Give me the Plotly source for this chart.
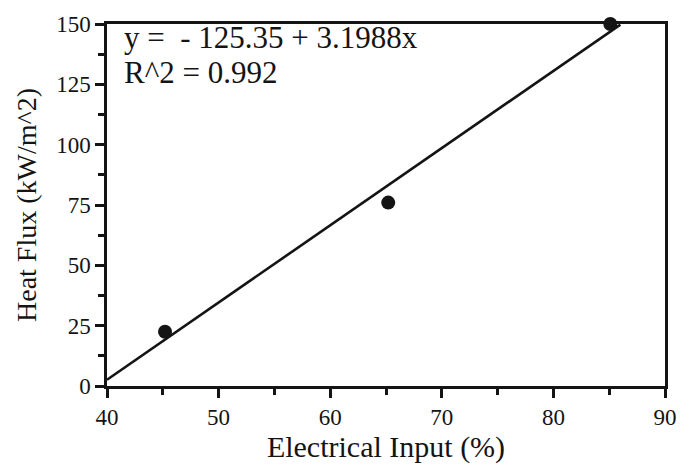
import plotly.graph_objects as go

# Measured points
electrical_input = [45.2, 65.2, 85.1]
heat_flux = [22.5, 76.0, 150.0]

# Linear fit reported on the chart
intercept = -125.35
slope = 3.1988
r_squared = 0.992
fit_x = [40.0, 86.0]
fit_y = [intercept + slope * x for x in fit_x]

x_ticks = [40, 50, 60, 70, 80, 90]
y_ticks = [0, 25, 50, 75, 100, 125, 150]

FONT = "Liberation Serif, Times New Roman, serif"
INK = "#141414"

fig = go.Figure()
fig.add_trace(go.Scatter(
    x=fit_x, y=fit_y, mode="lines",
    line=dict(color=INK, width=2.6),
    showlegend=False, cliponaxis=False,
))
fig.add_trace(go.Scatter(
    x=electrical_input, y=heat_flux, mode="markers",
    marker=dict(color=INK, size=14),
    showlegend=False, cliponaxis=False,
))

axis_common = dict(
    showline=True, linecolor=INK, linewidth=2.5, mirror=True,
    showgrid=False, zeroline=False,
    ticks="outside", ticklen=9, tickwidth=2.5, tickcolor=INK,
    tickfont=dict(family=FONT, size=23, color=INK),
)

fig.update_xaxes(
    range=[40, 90], tickvals=x_ticks,
    minor=dict(dtick=5, ticks="outside", ticklen=6, tickwidth=2.5, tickcolor=INK),
    title=dict(text="Electrical Input (%)", font=dict(family=FONT, size=30, color=INK),
               standoff=0),
    **axis_common,
)
fig.update_yaxes(
    range=[0, 150], tickvals=y_ticks,
    minor=dict(dtick=12.5, ticks="outside", ticklen=6, tickwidth=2.5, tickcolor=INK),
    title=dict(text="Heat Flux (kW/m^2)", font=dict(family=FONT, size=28, color=INK),
               standoff=12),
    **axis_common,
)

# Fit equation and goodness of fit, top-left inside the frame
fit_lines = [
    f"y =  - {abs(intercept):.2f} + {slope:.4f}x",
    f"R^2 = {r_squared:.3f}",
]
for i, line in enumerate(fit_lines):
    fig.add_annotation(
        xref="paper", yref="paper", x=0.027, y=0.962 - i * 0.096,
        xanchor="left", yanchor="middle", height=35,
        text=line, showarrow=False, align="left",
        font=dict(family=FONT, size=31, color=INK),
    )

fig.update_layout(
    width=689, height=472,
    margin=dict(l=107, r=14, t=20, b=86),
    paper_bgcolor="white", plot_bgcolor="white",
)

fig.write_html("out.html")
